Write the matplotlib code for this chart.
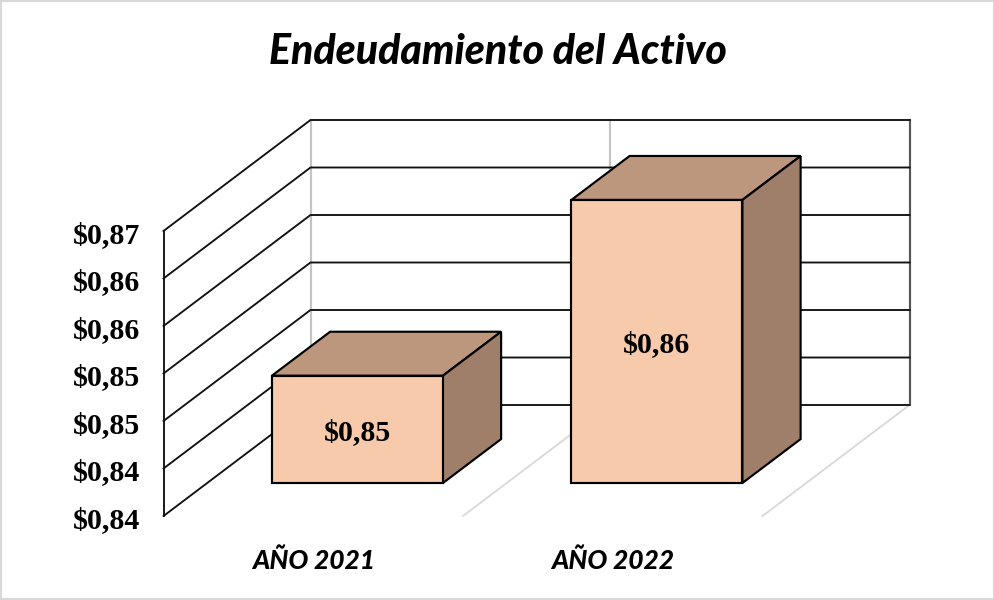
import matplotlib
matplotlib.use("Agg")
import matplotlib.pyplot as plt
from matplotlib.patches import Polygon, Rectangle
from matplotlib.transforms import ScaledTranslation

title = "Endeudamiento del Activo"
categories = ["AÑO 2021", "AÑO 2022"]
values = [0.8463, 0.8648]
value_labels = ["$0,85", "$0,86"]
axis_ticks = [0.835, 0.84, 0.845, 0.85, 0.855, 0.86, 0.865]
axis_labels = ["$0,84", "$0,84", "$0,85", "$0,85", "$0,86", "$0,86", "$0,87"]

W, H = 995, 600
fig = plt.figure(figsize=(W / 100, H / 100), dpi=100, facecolor="white")
L, R, T, B = 163.5, 762.5, 231, 516
ax = fig.add_axes([L / W, 1 - B / H, (R - L) / W, (B - T) / H])
ymin, ymax = axis_ticks[0], axis_ticks[-1]
ax.set_xlim(0, len(categories))
ax.set_ylim(ymin, ymax)
ax.patch.set_visible(False)
for s in ax.spines.values():
    s.set_visible(False)

# oblique projection of the chart depth, in data units
px_x = len(categories) / (R - L)
px_y = (ymax - ymin) / (B - T)
DX, DY = 147 * px_x, 111 * px_y


def proj(x, v, d):
    return (x + d * DX, v + d * DY)


DARK = "#111111"
GREY = "#c4c4c4"
LIGHT = "#d9d9d9"
lw = 1.35

# walls
for v in axis_ticks:
    xs, ys = zip(proj(0, v, 0), proj(0, v, 1), proj(len(categories), v, 1))
    ax.plot(xs, ys, color=DARK, lw=lw, clip_on=False, zorder=2, solid_joinstyle="miter")
ax.plot(*zip(proj(0, ymin, 0), proj(0, ymax, 0)), color=DARK, lw=lw, clip_on=False, zorder=2)
for i in range(len(categories) + 1):
    c = "#555555" if i == len(categories) else GREY
    ax.plot(*zip(proj(i, ymin, 1), proj(i, ymax, 1)), color=c, lw=lw + 0.2, clip_on=False, zorder=1)
    if i > 0:
        ax.plot(*zip(proj(i, ymin, 0), proj(i, ymin, 1)), color=LIGHT, lw=lw, clip_on=False, zorder=1)

# bars
BW = 0.571
D0, D1 = 0.297, 0.693
SHIFT = 0.5 * px_x
FRONT, TOP, SIDE = "#F7CAAC", "#BC977E", "#A07F6A"
centers = [i + 0.5 for i in range(len(categories))]
for c, v, lab in zip(centers, values, value_labels):
    x0, x1 = c + SHIFT - BW / 2, c + SHIFT + BW / 2
    fx0 = proj(x0, ymin, D0)
    ax.bar(fx0[0], v - ymin, width=BW, bottom=fx0[1], align="edge", color=FRONT,
           edgecolor="black", linewidth=lw + 0.2, clip_on=False, zorder=5)
    top = [proj(x0, v, D0), proj(x1, v, D0), proj(x1, v, D1), proj(x0, v, D1)]
    side = [proj(x1, ymin, D0), proj(x1, v, D0), proj(x1, v, D1), proj(x1, ymin, D1)]
    for pts, col in ((top, TOP), (side, SIDE)):
        ax.add_patch(Polygon(pts, closed=True, facecolor=col, edgecolor="black",
                             linewidth=lw + 0.2, clip_on=False, zorder=4, joinstyle="miter"))
    mx, my = proj(c + SHIFT, (v + ymin) / 2, D0)
    ax.text(mx, my - 3 * px_y, lab, ha="center", va="center", family="Liberation Serif",
            fontweight="bold", fontsize=21.5, color="black", zorder=6)

ax.set_yticks(axis_ticks, axis_labels, family="Liberation Serif", fontweight="bold", fontsize=21.5)
ax.set_xticks(centers, categories, family="Lato", fontweight="black", style="italic", fontsize=19)
ax.tick_params(axis="y", length=0, pad=17)
ax.tick_params(axis="x", length=0, pad=23)
for t in ax.get_yticklabels():
    t.set_transform(t.get_transform() + ScaledTranslation(0, -1.5 / 100, fig.dpi_scale_trans))

fig.text(497.5 / W, 1 - 52 / H, title, ha="center", va="center", family="Lato",
         fontweight="black", style="italic", fontsize=29.5, color="black")
fig.add_artist(Rectangle((0, 0), 1, 1, transform=fig.transFigure, fill=False,
                         edgecolor="#d9d9d9", linewidth=3))
fig.savefig("out.png", dpi=100)
